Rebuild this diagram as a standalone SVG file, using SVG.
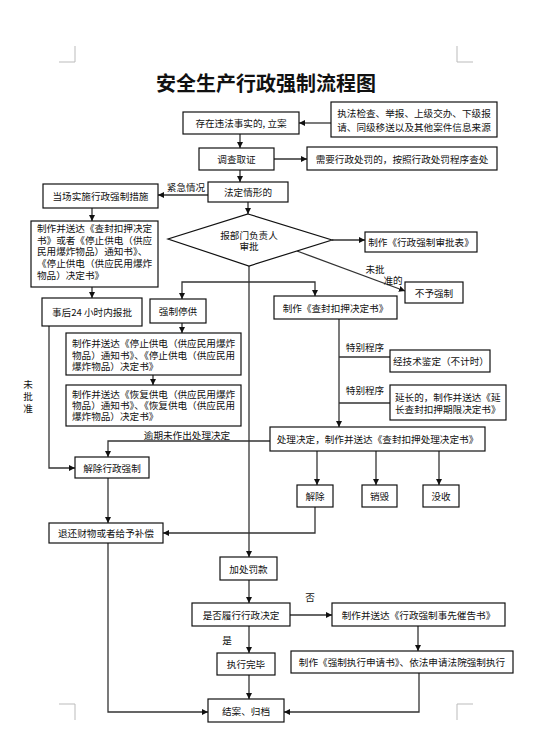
<svg xmlns="http://www.w3.org/2000/svg" width="533" height="731" viewBox="0 0 533 731">
<style>
.b{fill:#fff;stroke:#111;stroke-width:1.2}
.t{font-family:"Noto Sans CJK SC","Liberation Sans",sans-serif;font-size:9.6px;fill:#111;dominant-baseline:central}
.c{text-anchor:middle}
.ln{fill:none;stroke:#333;stroke-width:1.3}
.mk{fill:none;stroke:#bbb;stroke-width:1}
.ttl{font-family:"Noto Sans CJK SC","Liberation Sans",sans-serif;font-size:20px;font-weight:bold;fill:#111;text-anchor:middle;dominant-baseline:central}
</style>
<defs>
<marker id="a" viewBox="0 0 6 6" refX="6" refY="3" markerWidth="6" markerHeight="6" markerUnits="userSpaceOnUse" orient="auto">
<path d="M0,0 L6,3 L0,6 z" fill="#111"/>
</marker>
</defs>
<rect width="533" height="731" fill="#fff"/>
<g id="marks">
<path class="mk" d="M75,46 V62 H59 M457,46 V62 H473 M75,720 V704 H59 M457,720 V704 H473"/>
</g>
<text class="ttl" x="266" y="82">安全生产行政强制流程图</text>

<g id="connectors">
<path class="ln" marker-end="url(#a)" d="M331,123 L299,123"/>
<path class="ln" marker-end="url(#a)" d="M240,134 L240,148"/>
<path class="ln" marker-end="url(#a)" d="M274,159 L307,159"/>
<path class="ln" marker-end="url(#a)" d="M240,170 L240,182"/>
<path class="ln" marker-end="url(#a)" d="M208,195 L158,195"/>
<path class="ln" marker-end="url(#a)" d="M248,202 L248,214"/>
<path class="ln" marker-end="url(#a)" d="M92,208 L92,221"/>
<path class="ln" marker-end="url(#a)" d="M92,287 L92,298"/>
<path class="ln" marker-end="url(#a)" d="M332,240 L365,240"/>
<path class="ln" marker-end="url(#a)" d="M297,251 L405,291"/>
<path class="ln" marker-end="url(#a)" d="M249,266 L249,557"/>
<path class="ln" marker-end="url(#a)" d="M249,282 L182,282 L182,299"/>
<path class="ln" marker-end="url(#a)" d="M249,282 L315,282 L315,296"/>
<path class="ln" marker-end="url(#a)" d="M182,323 L182,333"/>
<path class="ln" marker-end="url(#a)" d="M153,375 L153,385"/>
<path class="ln" marker-end="url(#a)" d="M49,326 L49,468 L75,468"/>
<path class="ln" marker-end="url(#a)" d="M339,319 L339,427"/>
<path class="ln" d="M339,357 L390,357 M339,403 L390,403"/>
<path class="ln" marker-end="url(#a)" d="M317,451 L317,485"/>
<path class="ln" marker-end="url(#a)" d="M376,451 L376,485"/>
<path class="ln" marker-end="url(#a)" d="M439,451 L439,485"/>
<path class="ln" marker-end="url(#a)" d="M270,441 L108,441 L108,457"/>
<path class="ln" marker-end="url(#a)" d="M108,478 L108,523"/>
<path class="ln" marker-end="url(#a)" d="M315,507 L315,533 L163,533"/>
<path class="ln" marker-end="url(#a)" d="M108,543 L108,712 L208,712"/>
<path class="ln" marker-end="url(#a)" d="M249,580 L249,603"/>
<path class="ln" marker-end="url(#a)" d="M290,615 L332,615"/>
<path class="ln" marker-end="url(#a)" d="M249,626 L249,653"/>
<path class="ln" marker-end="url(#a)" d="M418,626 L418,651"/>
<path class="ln" marker-end="url(#a)" d="M249,675 L249,699"/>
<path class="ln" marker-end="url(#a)" d="M419,673 L419,712 L284,712"/>
<text class="t c" x="186" y="187">紧急情况</text>
<text class="t c" x="375" y="269">未批<tspan x="393" dy="11">准的</tspan></text>
<text class="t c" x="28" y="384">未<tspan x="28" dy="12">批</tspan><tspan x="28" dy="12">准</tspan></text>
<text class="t c" x="365" y="347">特别程序</text>
<text class="t c" x="365" y="390">特别程序</text>
<text class="t c" x="187" y="435">逾期未作出处理决定</text>
<text class="t c" x="310" y="597">否</text>
<text class="t c" x="227" y="640">是</text>
</g>

<g id="n_source"><rect class="b" x="331" y="102" width="166" height="35"/>
<text class="t c" x="414" y="113">执法检查、举报、上级交办、下级报<tspan x="414" dy="14">请、同级移送以及其他案件信息来源</tspan></text></g>
<g id="n_lian"><rect class="b" x="183" y="112" width="116" height="22"/>
<text class="t c" x="241" y="123">存在违法事实的, 立案</text></g>
<g id="n_diaocha"><rect class="b" x="199" y="148" width="75" height="22"/>
<text class="t c" x="236.5" y="159">调查取证</text></g>
<g id="n_xingzheng"><rect class="b" x="307" y="147" width="190" height="23"/>
<text class="t c" x="402" y="158.5">需要行政处罚的，按照行政处罚程序查处</text></g>
<g id="n_fading"><rect class="b" x="208" y="182" width="80" height="20"/>
<text class="t c" x="248" y="192">法定情形的</text></g>
<g id="n_dangchang"><rect class="b" x="43" y="184" width="115" height="24"/>
<text class="t c" x="100.5" y="196">当场实施行政强制措施</text></g>
<g id="n_zhizuo1"><rect class="b" x="31" y="221" width="127" height="66"/>
<text class="t" x="37" y="228">制作并送达《查封扣押决定<tspan x="37" dy="11.7">书》或者《停止供电（供应</tspan><tspan x="37" dy="11.7">民用爆炸物品）通知书》、</tspan><tspan x="37" dy="11.7">《停止供电（供应民用爆炸</tspan><tspan x="37" dy="11.7">物品）决定书》</tspan></text></g>
<g id="n_shenpi"><path class="b" d="M248,214 L332,240 L249,266 L168,239 Z"/>
<text class="t c" x="249" y="235">报部门负责人<tspan x="249" dy="11">审批</tspan></text></g>
<g id="n_biao"><rect class="b" x="365" y="232" width="112" height="20"/>
<text class="t c" x="421" y="242">制作《行政强制审批表》</text></g>
<g id="n_buyu"><rect class="b" x="405" y="282" width="58" height="21"/>
<text class="t c" x="434" y="292.5">不予强制</text></g>
<g id="n_shihou"><rect class="b" x="42" y="298" width="100" height="28"/>
<text class="t c" x="92" y="312">事后24 小时内报批</text></g>
<g id="n_tinggong"><rect class="b" x="150" y="299" width="56" height="24"/>
<text class="t c" x="178" y="311">强制停供</text></g>
<g id="n_chafeng"><rect class="b" x="274" y="296" width="123" height="23"/>
<text class="t c" x="335.5" y="307.5">制作《查封扣押决定书》</text></g>
<g id="n_tingzhi"><rect class="b" x="66" y="333" width="175" height="42"/>
<text class="t" x="72" y="343">制作并送达《停止供电（供应民用爆炸<tspan x="72" dy="11.5">物品）通知书》、《停止供电（供应民用</tspan><tspan x="72" dy="11.5">爆炸物品）决定书》</tspan></text></g>
<g id="n_huifu"><rect class="b" x="66" y="385" width="175" height="41"/>
<text class="t" x="72" y="394">制作并送达《恢复供电（供应民用爆炸<tspan x="72" dy="11.2">物品）通知书》、《恢复供电（供应民用</tspan><tspan x="72" dy="11.2">爆炸物品）决定书》</tspan></text></g>
<g id="n_jianding"><rect class="b" x="390" y="350" width="100" height="22"/>
<text class="t c" x="441" y="361">经技术鉴定（不计时）</text></g>
<g id="n_yanchang"><rect class="b" x="390" y="385" width="116" height="35"/>
<text class="t" x="395" y="397">延长的，制作并送达《延<tspan x="395" dy="12">长查封扣押期限决定书》</tspan></text></g>
<g id="n_chuli"><rect class="b" x="270" y="427" width="215" height="24"/>
<text class="t c" x="377.5" y="439">处理决定，制作并送达《查封扣押处理决定书》</text></g>
<g id="n_jiechuqz"><rect class="b" x="75" y="457" width="74" height="21"/>
<text class="t c" x="112" y="467.5">解除行政强制</text></g>
<g id="n_jiechu"><rect class="b" x="297" y="485" width="36" height="22"/>
<text class="t c" x="315" y="496">解除</text></g>
<g id="n_xiaohui"><rect class="b" x="362" y="485" width="35" height="22"/>
<text class="t c" x="379.5" y="496">销毁</text></g>
<g id="n_moshou"><rect class="b" x="423" y="485" width="36" height="22"/>
<text class="t c" x="441" y="496">没收</text></g>
<g id="n_tuihuan"><rect class="b" x="49" y="523" width="114" height="20"/>
<text class="t c" x="106" y="533">退还财物或者给予补偿</text></g>
<g id="n_fakuan"><rect class="b" x="220" y="557" width="57" height="23"/>
<text class="t c" x="248.5" y="568.5">加处罚款</text></g>
<g id="n_lvxing"><rect class="b" x="192" y="603" width="98" height="23"/>
<text class="t c" x="241" y="614.5">是否履行行政决定</text></g>
<g id="n_cuigao"><rect class="b" x="332" y="603" width="173" height="23"/>
<text class="t c" x="418.5" y="614.5">制作并送达《行政强制事先催告书》</text></g>
<g id="n_wanbi"><rect class="b" x="217" y="653" width="58" height="22"/>
<text class="t c" x="246" y="664">执行完毕</text></g>
<g id="n_shenqing"><rect class="b" x="291" y="651" width="222" height="22"/>
<text class="t c" x="402" y="662">制作《强制执行申请书》、依法申请法院强制执行</text></g>
<g id="n_jiean"><rect class="b" x="208" y="699" width="76" height="23"/>
<text class="t c" x="246" y="710.5">结案、归档</text></g>
</svg>
